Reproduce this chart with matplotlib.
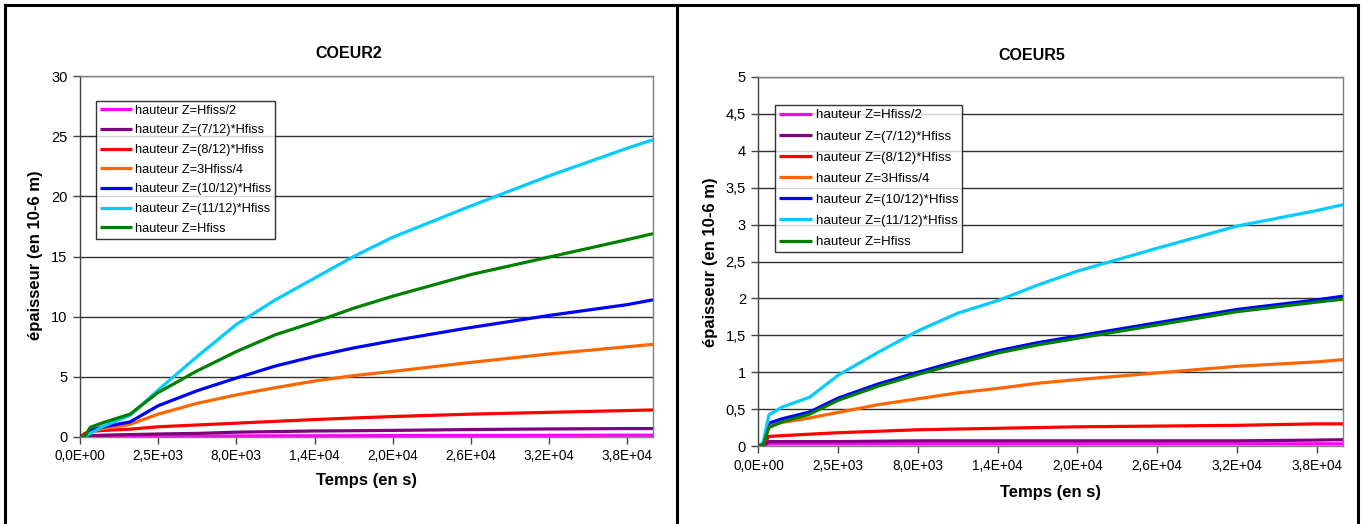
import matplotlib.pyplot as plt
from matplotlib.lines import Line2D

plt.rcParams['font.family'] = ['Liberation Sans', 'DejaVu Sans']

# category positions along the x axis (in units of one tick label step)
pos = [0, 0.06, 0.13, 0.3, 0.64, 1, 1.5, 2, 2.5, 3, 3.5, 4, 5, 6, 7, 7.33]
time_labels = ['0,0E+00', '2,5E+03', '8,0E+03', '1,4E+04', '2,0E+04',
               '2,6E+04', '3,2E+04', '3,8E+04']

series_names = ['hauteur Z=Hfiss/2', 'hauteur Z=(7/12)*Hfiss',
                'hauteur Z=(8/12)*Hfiss', 'hauteur Z=3Hfiss/4',
                'hauteur Z=(10/12)*Hfiss', 'hauteur Z=(11/12)*Hfiss',
                'hauteur Z=Hfiss']
series_colors = ['#FF00FF', '#800080', '#FF0000', '#FF6600',
                 '#0000FF', '#00CCFF', '#008000']

# COEUR2
c2_half = [0, 0.02, 0.04, 0.05, 0.06, 0.07, 0.08, 0.09, 0.1, 0.1, 0.11, 0.12, 0.13, 0.14, 0.15, 0.15]
c2_7_12 = [0, 0.05, 0.1, 0.15, 0.2, 0.25, 0.3, 0.4, 0.45, 0.5, 0.52, 0.55, 0.62, 0.67, 0.7, 0.7]
c2_8_12 = [0, 0.3, 0.45, 0.55, 0.65, 0.85, 1.0, 1.15, 1.3, 1.45, 1.58, 1.7, 1.9, 2.05, 2.2, 2.25]
c2_3_4 = [0, 0, 0.45, 0.7, 1.05, 1.9, 2.8, 3.5, 4.1, 4.65, 5.1, 5.45, 6.2, 6.9, 7.5, 7.7]
c2_10_12 = [0, 0, 0.55, 0.85, 1.25, 2.6, 3.85, 4.9, 5.9, 6.7, 7.4, 8.0, 9.1, 10.1, 11.0, 11.4]
c2_11_12 = [0, 0, 0.3, 0.9, 1.8, 3.9, 6.7, 9.35, 11.4, 13.2, 15.0, 16.6, 19.2, 21.7, 24.0, 24.7]
c2_full = [0, 0, 0.8, 1.2, 1.9, 3.7, 5.5, 7.1, 8.5, 9.55, 10.7, 11.7, 13.5, 14.95, 16.4, 16.9]

# COEUR5
c5_half = [0, 0.01, 0.03, 0.03, 0.03, 0.03, 0.03, 0.03, 0.03, 0.03, 0.03, 0.03, 0.03, 0.03, 0.03, 0.03]
c5_7_12 = [0, 0.01, 0.06, 0.06, 0.06, 0.06, 0.065, 0.07, 0.07, 0.07, 0.07, 0.07, 0.07, 0.07, 0.08, 0.085]
c5_8_12 = [0, 0.02, 0.13, 0.14, 0.16, 0.18, 0.2, 0.22, 0.23, 0.24, 0.25, 0.26, 0.27, 0.28, 0.3, 0.3]
c5_3_4 = [0, 0.03, 0.27, 0.32, 0.38, 0.455, 0.56, 0.64, 0.72, 0.78, 0.85, 0.9, 0.99, 1.08, 1.14, 1.17]
c5_10_12 = [0, 0.03, 0.31, 0.37, 0.46, 0.65, 0.84, 1.0, 1.15, 1.29, 1.4, 1.49, 1.67, 1.85, 1.98, 2.03]
c5_11_12 = [0, 0.05, 0.42, 0.53, 0.66, 0.96, 1.27, 1.56, 1.8, 1.97, 2.18, 2.37, 2.68, 2.98, 3.19, 3.27]
c5_full = [0, 0.02, 0.25, 0.33, 0.43, 0.62, 0.81, 0.97, 1.12, 1.26, 1.37, 1.46, 1.64, 1.82, 1.95, 1.99]

coeur2 = [c2_half, c2_7_12, c2_8_12, c2_3_4, c2_10_12, c2_11_12, c2_full]
coeur5 = [c5_half, c5_7_12, c5_8_12, c5_3_4, c5_10_12, c5_11_12, c5_full]

W, H = 1364, 524
fig = plt.figure(figsize=(W / 100, H / 100), dpi=100)


def fx(px):
    return px / W


def fy(py):
    return 1 - py / H


def draw_panel(rect, data, ymax, ystep, yticklabels, title, title_xy, xlabel_xy, ylabel_xy,
               leg_anchor, leg_size, leg_space):
    ax = fig.add_axes(rect)
    for vals, name, col in zip(data, series_names, series_colors):
        ax.plot(pos, vals, color=col, lw=2.3, label=name, solid_capstyle='butt')
    ax.set_xlim(0, 7.33)
    ax.set_ylim(0, ymax)
    yt = [i * ystep for i in range(len(yticklabels))]
    ax.set_yticks(yt)
    ax.set_yticklabels(yticklabels, fontsize=10.5)
    ax.set_xticks(range(len(time_labels)))
    ax.set_xticklabels(time_labels, fontsize=9.8)
    ax.tick_params(axis='both', direction='out', length=5, width=1, color='#444444', pad=4)
    ax.grid(axis='y', color='#303030', lw=1)
    ax.set_axisbelow(True)
    for sp in ax.spines.values():
        sp.set_color('#808080')
        sp.set_linewidth(1)
    ax.spines['left'].set_color('#404040')
    leg = ax.legend(loc='upper left', bbox_to_anchor=leg_anchor, fontsize=leg_size,
                    frameon=True, fancybox=False, edgecolor='black',
                    handlelength=2.5, handletextpad=0.25, borderpad=0.3,
                    labelspacing=leg_space, borderaxespad=0)
    leg.get_frame().set_linewidth(1)
    fig.text(title_xy[0], title_xy[1], title, ha='center', va='center',
             fontsize=11.5, fontweight='bold')
    fig.text(xlabel_xy[0], xlabel_xy[1], 'Temps (en s)', ha='center', va='center',
             fontsize=12, fontweight='bold')
    fig.text(ylabel_xy[0], ylabel_xy[1], 'épaisseur (en 10-6 m)', ha='center', va='center',
             fontsize=12, fontweight='bold', rotation=90)
    return ax


# left chart: plot area px x 80..653, y 76..437
draw_panel([fx(80), fy(437), fx(653) - fx(80), fy(76) - fy(437)], coeur2, 30, 5,
           ['0', '5', '10', '15', '20', '25', '30'], 'COEUR2',
           (fx(349), fy(53)), (fx(366), fy(480)), (fx(36), fy(255)), (0.028, 0.931), 9.2, 0.6)

# right chart: plot area px x 758.5..1343, y 77..446
draw_panel([fx(758.5), fy(446), fx(1343) - fx(758.5), fy(77) - fy(446)], coeur5, 5, 0.5,
           ['0', '0,5', '1', '1,5', '2', '2,5', '3', '3,5', '4', '4,5', '5'], 'COEUR5',
           (fx(1032), fy(55)), (fx(1050), fy(493)), (fx(710), fy(262)), (0.028, 0.924), 9.6, 0.66)

# panel borders
for xs, ys in [([5, 1358], [5, 5]), ([5, 5], [5, 524]), ([1358, 1358], [5, 524]),
               ([676.5, 676.5], [5, 524])]:
    fig.add_artist(Line2D([fx(x) for x in xs], [fy(y) for y in ys], color='black', lw=2.2))

fig.savefig('out.png', dpi=100)
